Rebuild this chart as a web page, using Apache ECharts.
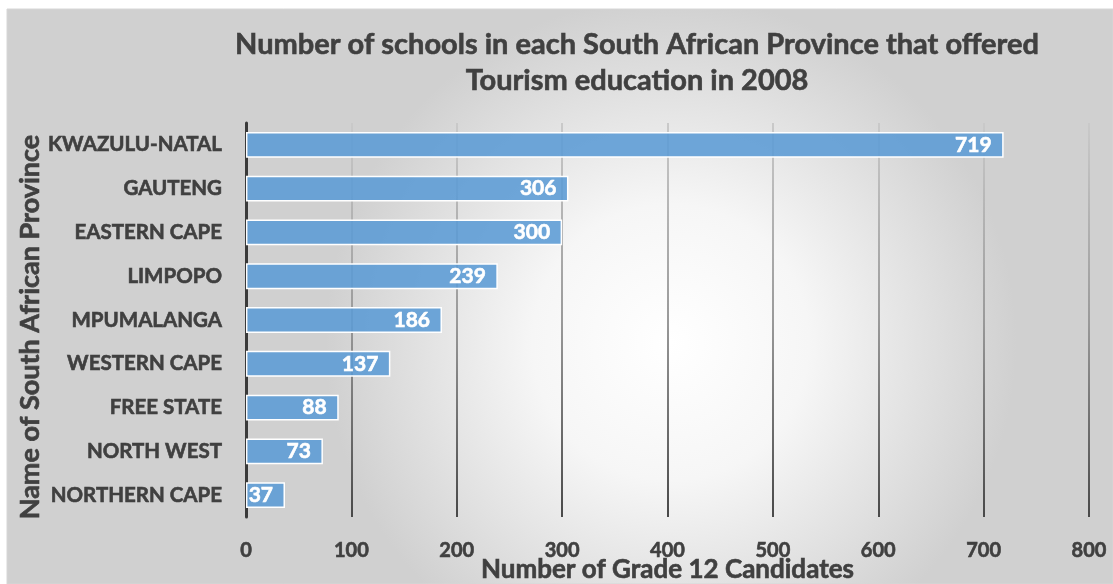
<!DOCTYPE html>
<html>
<head>
<meta charset="utf-8">
<script src="https://cdn.jsdelivr.net/npm/echarts@6/dist/echarts.min.js"></script>
<style>
  html, body { margin: 0; padding: 0; background: #ffffff; }
  #chart { width: 1113px; height: 584px; }
</style>
</head>
<body>
<div id="chart"></div>
<script>
// Provinces, listed from top to bottom
const provinces = [
  'KWAZULU-NATAL', 'GAUTENG', 'EASTERN CAPE', 'LIMPOPO', 'MPUMALANGA',
  'WESTERN CAPE', 'FREE STATE', 'NORTH WEST', 'NORTHERN CAPE'
];
// Schools offering Tourism per province
const schools = [719, 306, 300, 239, 186, 137, 88, 73, 37];
// Value axis ticks
const xTicks = [0, 100, 200, 300, 400, 500, 600, 700, 800];

const titleText = 'Number of schools in each South African Province that offered\nTourism education in 2008';
const yName = 'Name of South African Province';
const xName = 'Number of Grade 12 Candidates';

const FONT = 'Lato, "Open Sans", sans-serif';
const TEXT = '#404040';

// bold text, thickened slightly with a same-coloured outline
function heavy(size, color) {
  return {
    fontFamily: FONT,
    fontWeight: 'bold',
    fontSize: size,
    color: color,
    textBorderColor: color,
    textBorderWidth: 0.6
  };
}

const chart = echarts.init(document.getElementById('chart'), null, { renderer: 'canvas' });

chart.setOption({
  animation: false,
  graphic: [{
    type: 'rect',
    z: -10,
    silent: true,
    shape: { x: 7, y: 9, width: 1106, height: 575 },
    style: {
      fill: new echarts.graphic.RadialGradient(0.6, 0.58, 0.6, [
        { offset: 0, color: '#ffffff' },
        { offset: 0.4, color: '#f6f6f6' },
        { offset: 1, color: '#d0d0d0' }
      ]),
      stroke: '#d6d6d6',
      lineWidth: 1
    }
  }],
  title: {
    text: titleText,
    left: 632,
    top: 22,
    textAlign: 'center',
    textStyle: Object.assign(heavy(29, TEXT), { lineHeight: 36 })
  },
  grid: {
    left: 246,
    right: 24,
    top: 123,
    bottom: 67,
    containLabel: false,
    outerBoundsMode: 'none'
  },
  xAxis: {
    type: 'value',
    min: 0,
    max: 800,
    interval: 100,
    name: xName,
    nameLocation: 'middle',
    nameGap: 40,
    nameMoveOverlap: false,
    nameTextStyle: heavy(26, TEXT),
    axisLine: { show: false },
    axisTick: { show: false },
    axisLabel: Object.assign({
      margin: 24,
      formatter: v => xTicks.includes(v) ? String(v) : ''
    }, heavy(20, TEXT)),
    splitLine: {
      show: true,
      lineStyle: {
        width: 2,
        color: new echarts.graphic.LinearGradient(0, 0, 0, 1, [
          { offset: 0, color: '#cacaca' },
          { offset: 0.5, color: '#9a9a9a' },
          { offset: 1, color: '#484848' }
        ])
      }
    }
  },
  yAxis: {
    type: 'category',
    data: provinces,
    inverse: true,
    name: yName,
    nameLocation: 'middle',
    nameGap: 202,
    nameRotate: 90,
    nameMoveOverlap: false,
    nameTextStyle: Object.assign({ padding: [0, 14, 0, 0] }, heavy(27, TEXT)),
    axisLine: { show: true, lineStyle: { color: '#3a3a3a', width: 3 } },
    axisTick: { show: false },
    axisLabel: Object.assign({ margin: 24 }, heavy(20.5, TEXT)),
    splitLine: { show: false }
  },
  series: [{
    type: 'bar',
    data: schools,
    barCategoryGap: '41%',
    itemStyle: {
      color: 'rgba(91,155,213,0.88)',
      borderColor: '#ffffff',
      borderWidth: 1.5
    },
    label: Object.assign({
      show: true,
      position: 'insideRight',
      distance: 12
    }, heavy(21, '#ffffff'))
  }]
});
</script>
</body>
</html>
